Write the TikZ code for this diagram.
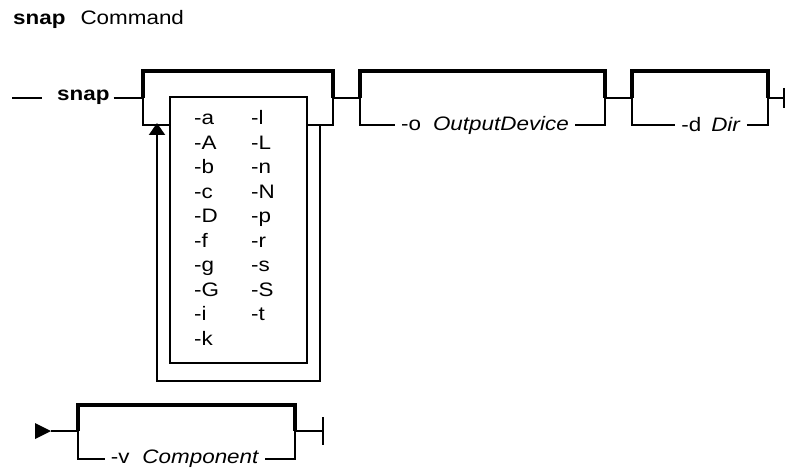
\documentclass[tikz,border=0pt]{standalone}
\usepackage{fontspec}
\setmainfont{Liberation Sans}[FakeStretch=1.15]
\usetikzlibrary{arrows.meta}
\begin{document}
\begin{tikzpicture}[x=1pt,y=-1pt,
  rail/.style={line width=2pt, line join=miter},
  railthick/.style={line width=3.8pt, line join=miter},
  txt/.style={font=\fontsize{19.5}{21}\selectfont, inner sep=0pt},
  lbl/.style={txt, inner xsep=6pt, inner ysep=0pt},
  loopend/.style={-{Triangle[width=16pt,length=12pt]}}]
\useasboundingbox (0,0) rectangle (785,468);

% title
\node[txt, anchor=mid west] (title) at (13,22) {\textbf{snap}\hspace{15pt}Command};

% ---- first line ----
\coordinate (start) at (12,98);
\coordinate (startend) at (42,98);
\draw[rail] (start) -- (startend);
\node[txt, anchor=mid west] (cmd) at (57,98) {\textbf{snap}};

% box 1 (repeatable flag list)
\coordinate (b1l) at (143,98);  \coordinate (b1tl) at (143,71);
\coordinate (b1tr) at (333,71); \coordinate (b1r) at (333,98);
\coordinate (b1bl) at (143,125); \coordinate (b1br) at (333,125);
\coordinate (inl) at (170,125); \coordinate (inr) at (307,125);
\coordinate (loopr) at (320,125); \coordinate (loopl) at (157,125);
\coordinate (looprb) at (320,381); \coordinate (looplb) at (157,381);
\coordinate (intl) at (170,97); \coordinate (inbr) at (307,363);

\draw[rail] ([xshift=4pt]cmd.mid east) -- (b1l);
\draw[railthick] (b1l) -- (b1tl) -- (b1tr) -- (b1r);
\draw[rail] (b1l) -- (b1bl) -- (inl);
\draw[rail] (inr) -- (b1br) -- (b1r);
\draw[rail] (intl) rectangle (inbr);
\draw[rail] (loopr) -- (looprb) -- (looplb) -- (157,140);
\draw[rail, loopend] (157,140) -- ([yshift=2pt]loopl);

\foreach \t [count=\i from 0] in {-a,-A,-b,-c,-D,-f,-g,-G,-i,-k}
  \node[txt, anchor=mid west] (L\i) at (194,122+24.5*\i) {\t};
\foreach \t [count=\i from 0] in {-l,-L,-n,-N,-p,-r,-s,-S,-t}
  \node[txt, anchor=mid west] (R\i) at (251,122+24.5*\i) {\t};

% box 2 (-o OutputDevice)
\coordinate (b2l) at (360,98);  \coordinate (b2tl) at (360,71);
\coordinate (b2tr) at (605,71); \coordinate (b2r) at (605,98);
\coordinate (b2bl) at (360,125); \coordinate (b2br) at (605,125);
\node[lbl] (optO) at (485,125) {-o\hspace{12pt}\textit{OutputDevice}};
\draw[rail] (b1r) -- (b2l);
\draw[railthick] (b2l) -- (b2tl) -- (b2tr) -- (b2r);
\draw[rail] (b2l) -- (b2bl) -- (optO.west);
\draw[rail] (optO.east) -- (b2br) -- (b2r);

% box 3 (-d Dir)
\coordinate (b3l) at (632,98);  \coordinate (b3tl) at (632,71);
\coordinate (b3tr) at (768,71); \coordinate (b3r) at (768,98);
\coordinate (b3bl) at (632,125); \coordinate (b3br) at (768,125);
\node[lbl] (optD) at (711,125) {-d\hspace{10pt}\textit{Dir}};
\draw[rail] (b2r) -- (b3l);
\draw[railthick] (b3l) -- (b3tl) -- (b3tr) -- (b3r);
\draw[rail] (b3l) -- (b3bl) -- (optD.west);
\draw[rail] (optD.east) -- (b3br) -- (b3r);

\coordinate (cont) at (784,98);
\draw[rail] (b3r) -- (cont);
\draw[rail] (784,88) -- (784,108);

% ---- second line ----
\coordinate (s2) at (51,431);
\fill (35,423) -- (s2) -- (35,439) -- cycle;
\coordinate (b4l) at (78,431);  \coordinate (b4tl) at (78,405);
\coordinate (b4tr) at (295,405); \coordinate (b4r) at (295,431);
\coordinate (b4bl) at (78,459); \coordinate (b4br) at (295,459);
\node[lbl] (optV) at (185,459) {-v\hspace{13pt}\textit{Component}};
\draw[rail] (s2) -- (b4l);
\draw[railthick] (b4l) -- (b4tl) -- (b4tr) -- (b4r);
\draw[rail] (b4l) -- (b4bl) -- (optV.west);
\draw[rail] (optV.east) -- (b4br) -- (b4r);
\coordinate (e2) at (323,431);
\draw[rail] (b4r) -- (e2);
\draw[rail] (323,417) -- (323,445);
\end{tikzpicture}
\end{document}
